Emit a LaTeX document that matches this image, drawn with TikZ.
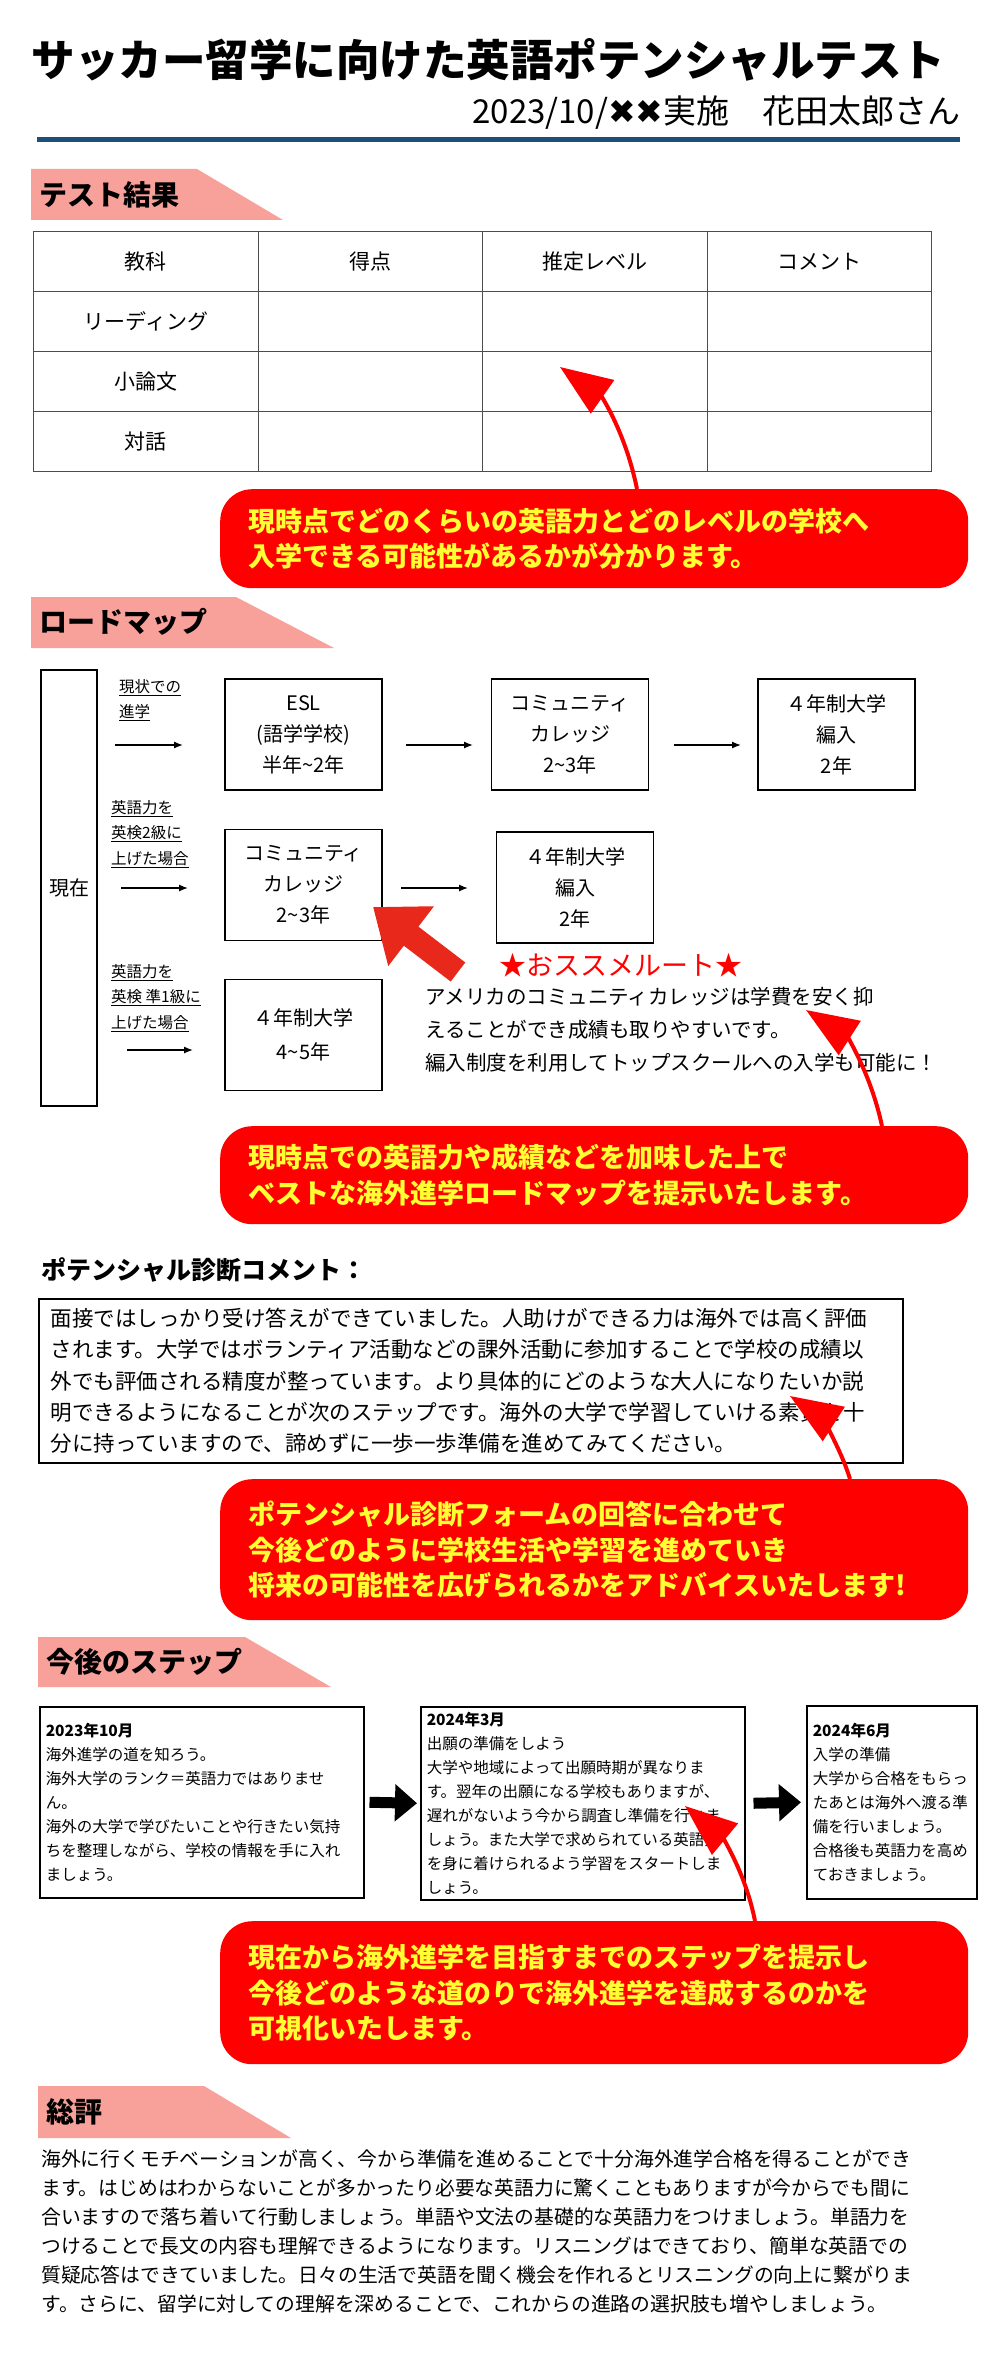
\documentclass[tikz,border=0pt]{standalone}
\usepackage{fontspec}
\setmainfont{Noto Sans CJK JP}
\newfontfamily\symfont{DejaVu Sans}
\usetikzlibrary{arrows.meta}
\definecolor{navy}{HTML}{1F4E79}
\definecolor{tagpink}{HTML}{F8A09A}
\definecolor{callred}{HTML}{FF0000}
\definecolor{callyellow}{HTML}{FFFF33}
\definecolor{bigred}{HTML}{E8281A}
\newcommand{\fs}[2]{\fontsize{#1}{#2}\selectfont}
\newcommand{\til}{\string~}
\begin{document}
\begin{tikzpicture}[x=1pt, y=-1pt,
    cell/.style={draw=black!70, line width=1.2, minimum width=224.5, minimum height=60, anchor=north west, inner sep=0, font=\fs{21}{26}},
    mapbox/.style={draw, line width=1.5, minimum width=157, minimum height=111, align=center, font=\fs{20}{31}},
    maplabel/.style={anchor=north west, align=left, inner sep=0, font=\fs{15.5}{25.5}},
    maparrow/.style={line width=1.3, -{Latex[length=9,width=7]}},
    callout/.style={fill=callred, rounded corners=32, anchor=north west, minimum width=748, text width=692, inner xsep=28, align=left, text=callyellow, font=\bfseries\fs{27}{35.5}},
    hint/.style={callred, line width=4, -{Triangle[length=52,width=40]}},
    stepbox/.style={draw, line width=1.5, anchor=north west, align=left, inner xsep=6, font=\fs{15.5}{24}},
    steparrow/.style={line width=11, -{Triangle[length=22,width=36]}},
    tagtext/.style={anchor=west, font=\bfseries\fs{28}{30}}]
\useasboundingbox (0,0) rectangle (994,2357);

% heading
\node[anchor=west, font=\bfseries\fs{43.5}{46}] (title) at (28,60) {サッカー留学に向けた英語ポテンシャルテスト};
\node[anchor=east, font=\fs{33}{36}] (date) at (964,113) {2023/10/{\symfont ✖✖}実施　花田太郎さん};
\draw[navy, line width=5] (37,140) -- (960,140);

% test results
\fill[tagpink] (31,169) -- (197,169) -- (283,220) -- (31,220) -- cycle;
\node[tagtext] (tag1) at (36,195) {テスト結果};
\foreach \txt [count=\i from 0] in {教科,リーディング,小論文,対話}
  \node[cell] (t\i-0) at (33,231+60*\i) {\txt};
\foreach \txt [count=\j] in {得点,推定レベル,コメント} {
  \node[cell] (t0-\j) at (33+224.5*\j,231) {\txt};
  \foreach \i in {1,2,3}
    \node[cell] (t\i-\j) at (33+224.5*\j,231+60*\i) {};
}
\node[callout, minimum height=99] (call1) at (220,489) {現時点でどのくらいの英語力とどのレベルの学校へ\\入学できる可能性があるかが分かります。};
\coordinate (c1from) at (637,489);
\coordinate (c1to) at (560,367);
\draw[hint] (c1from) .. controls (625,430) and (600,395) .. (c1to);

% roadmap
\fill[tagpink] (31,597) -- (236,597) -- (334,648) -- (31,648) -- cycle;
\node[tagtext] (tag2) at (36,622) {ロードマップ};
\node[draw, line width=1.5, minimum width=56, minimum height=436, font=\fs{20}{24}] (now) at (69,888) {現在};
\node[mapbox] (esl) at (303.5,734.5) {ESL\\(語学学校)\\半年\til 2年};
\node[mapbox] (cc1) at (570,734.5) {コミュニティ\\カレッジ\\2\til 3年};
\node[mapbox] (uni1) at (836.5,734.5) {４年制大学\\編入\\2年};
\node[mapbox] (cc2) at (303.5,885) {コミュニティ\\カレッジ\\2\til 3年};
\node[mapbox] (uni2) at (575,887.5) {４年制大学\\編入\\2年};
\node[mapbox, font=\fs{20}{34}] (uni3) at (303.5,1035) {４年制大学\\4\til 5年};
\node[maplabel] (lab1) at (119,679) {\underline{現状での}\\\underline{進学}};
\node[maplabel] (lab2) at (111,800) {\underline{英語力を}\\\underline{英検2級に}\\\underline{上げた場合}};
\node[maplabel] (lab3) at (111,964) {\underline{英語力を}\\\underline{英検 準1級に}\\\underline{上げた場合}};
\coordinate (a1) at (115,745);
\coordinate (a2) at (121,888);
\coordinate (a3) at (127,1050);
\draw[maparrow] (a1) -- (183,745);
\draw[maparrow] (406,745) -- (473,745);
\draw[maparrow] (674,745) -- (741,745);
\draw[maparrow] (a2) -- (188,888);
\draw[maparrow] (401,888) -- (468,888);
\draw[maparrow] (a3) -- (193,1050);
\coordinate (bigtail) at (458,972);
\coordinate (bigtip) at (373,907);
\draw[bigred, line width=24, -{Triangle[length=48,width=72]}] (bigtail) -- (bigtip);
\node[text=callred, font=\fs{27}{30}] (rec) at (621,965) {★おススメルート★};
\node[anchor=north west, align=left, inner sep=0, font=\fs{20.5}{33}] (recnote) at (425,987) {アメリカのコミュニティカレッジは学費を安く抑\\えることができ成績も取りやすいです。\\編入制度を利用してトップスクールへの入学も可能に！};
\node[callout, minimum height=98] (call2) at (220,1126) {現時点での英語力や成績などを加味した上で\\ベストな海外進学ロードマップを提示いたします。};
\coordinate (c2from) at (882,1126);
\coordinate (c2to) at (806,1010);
\draw[hint] (c2from) .. controls (870,1070) and (845,1035) .. (c2to);

% potential comment
\node[anchor=west, font=\bfseries\fs{25}{28}] (potential) at (38,1270) {ポテンシャル診断コメント：};
\node[draw, line width=1.5, anchor=north west, minimum width=863, minimum height=164, text width=840, inner xsep=12, align=left, font=\fs{21.5}{31.2}] (comment) at (38,1298) {面接ではしっかり受け答えができていました。人助けができる力は海外では高く評価\\されます。大学ではボランティア活動などの課外活動に参加することで学校の成績以\\外でも評価される精度が整っています。より具体的にどのような大人になりたいか説\\明できるようになることが次のステップです。海外の大学で学習していける素質を十\\分に持っていますので、諦めずに一歩一歩準備を進めてみてください。};
\node[callout, minimum height=141] (call3) at (220,1479) {ポテンシャル診断フォームの回答に合わせて\\今後どのように学校生活や学習を進めていき\\将来の可能性を広げられるかをアドバイスいたします!};
\coordinate (c3from) at (850,1479);
\coordinate (c3to) at (790,1396);
\draw[hint] (c3from) .. controls (838,1440) and (815,1412) .. (c3to);

% next steps
\fill[tagpink] (38,1637) -- (245,1637) -- (331,1687) -- (38,1687) -- cycle;
\node[tagtext] (tag3) at (43,1662) {今後のステップ};
\node[stepbox, minimum width=324, minimum height=191, text width=312] (step1) at (39,1706) {\textbf{2023年10月}\\海外進学の道を知ろう。\\海外大学のランク＝英語力ではありませ\\ん。\\海外の大学で学びたいことや行きたい気持\\ちを整理しながら、学校の情報を手に入れ\\ましょう。};
\node[stepbox, minimum width=324, minimum height=193, text width=312] (step2) at (420,1706) {\textbf{2024年3月}\\出願の準備をしよう\\大学や地域によって出願時期が異なりま\\す。翌年の出願になる学校もありますが、\\遅れがないよう今から調査し準備を行いま\\しょう。また大学で求められている英語力\\を身に着けられるよう学習をスタートしま\\しょう。};
\node[stepbox, minimum width=170, minimum height=193, text width=158] (step3) at (806,1705) {\textbf{2024年6月}\\入学の準備\\大学から合格をもらっ\\たあとは海外へ渡る準\\備を行いましょう。\\合格後も英語力を高め\\ておきましょう。};
\draw[steparrow] (step1.east) ++(5,0) -- ([xshift=-3]step2.west);
\draw[steparrow] (step2.east) ++(8,0) -- ([xshift=-5]step3.west);
\node[callout, minimum height=143] (call4) at (220,1921) {現在から海外進学を目指すまでのステップを提示し\\今後どのような道のりで海外進学を達成するのかを\\可視化いたします。};
\coordinate (c4from) at (755,1921);
\coordinate (c4to) at (685,1806);
\draw[hint] (c4from) .. controls (745,1870) and (720,1835) .. (c4to);

% overall review
\fill[tagpink] (38,2086) -- (204,2086) -- (291,2138) -- (38,2138) -- cycle;
\node[tagtext] (tag4) at (43,2112) {総評};
\node[anchor=north west, align=left, inner sep=0, font=\fs{19.8}{29}] (review) at (41,2150) {海外に行くモチベーションが高く、今から準備を進めることで十分海外進学合格を得ることができ\\ます。はじめはわからないことが多かったり必要な英語力に驚くこともありますが今からでも間に\\合いますので落ち着いて行動しましょう。単語や文法の基礎的な英語力をつけましょう。単語力を\\つけることで長文の内容も理解できるようになります。リスニングはできており、簡単な英語での\\質疑応答はできていました。日々の生活で英語を聞く機会を作れるとリスニングの向上に繋がりま\\す。さらに、留学に対しての理解を深めることで、これからの進路の選択肢も増やしましょう。};
\end{tikzpicture}
\end{document}
